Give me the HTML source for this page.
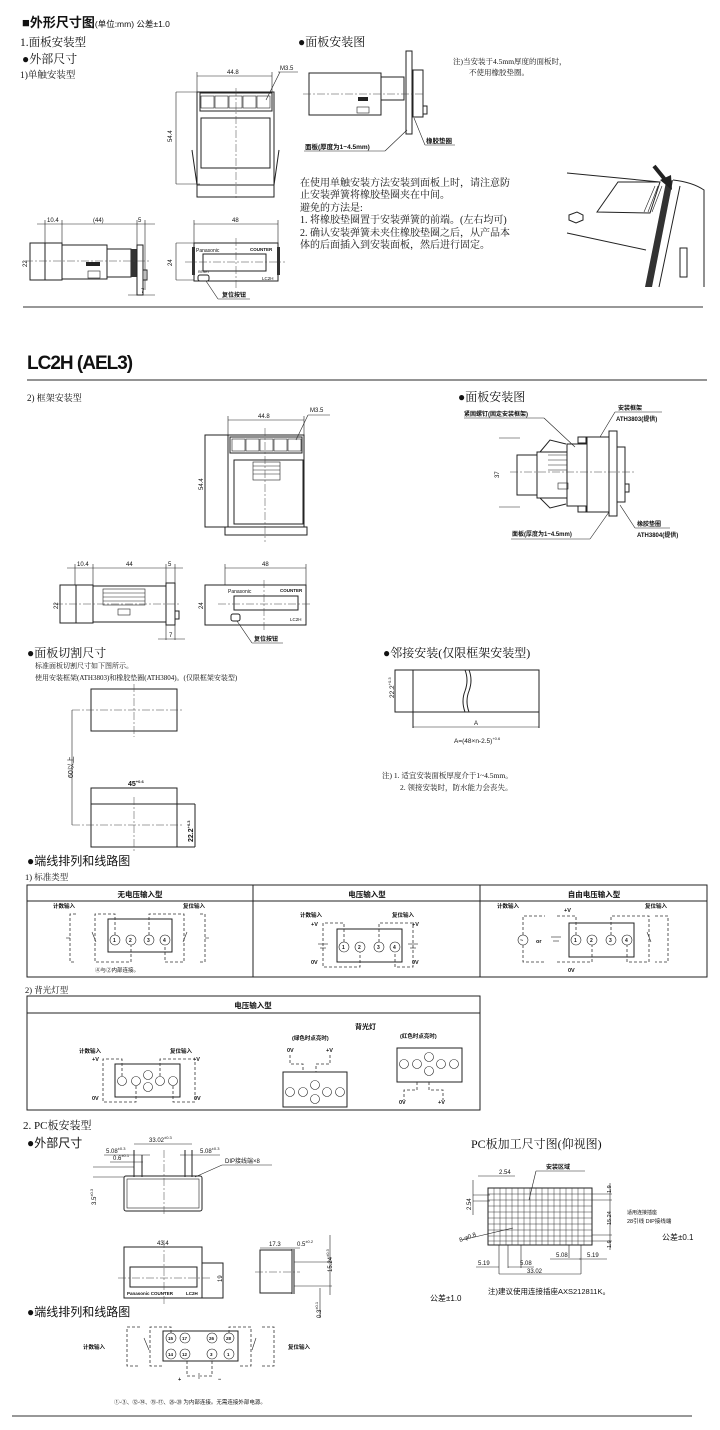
<!DOCTYPE html>
<html><head><meta charset="utf-8"><style>
html,body{margin:0;padding:0;background:#fff}
svg{display:block}
text{font-family:"Liberation Sans","Noto Sans CJK SC",sans-serif;fill:#111}
.s{font-family:"Liberation Serif","Noto Serif CJK SC",serif}
.l{stroke:#222;stroke-width:1;fill:none}
.t{stroke:#222;stroke-width:.6;fill:none}
.d{stroke:#333;stroke-width:.8;fill:none;stroke-dasharray:3 2}
.c{stroke:#444;stroke-width:.5;fill:none;stroke-dasharray:8 2 2 2}
.g{stroke:#333;stroke-width:.5;fill:none}
</style></head><body>
<svg width="720" height="1430" viewBox="0 0 720 1430" xmlns="http://www.w3.org/2000/svg">
<!-- Section 1 -->
<text x="22" y="27" font-size="13" font-weight="bold">■外形尺寸图<tspan font-size="8.5" font-weight="normal">(单位:mm) 公差±1.0</tspan></text>
<text x="20" y="46" font-size="11.5" class="s">1.面板安装型</text>
<text x="22" y="63" font-size="12" class="s">●外部尺寸</text>
<text x="20" y="78" font-size="9.5" class="s">1)单触安装型</text>
<text x="298" y="46" font-size="12" class="s">●面板安装图</text>

<!-- front view 1 -->
<g>
<line class="t" x1="197" y1="76" x2="272" y2="76"/><line class="t" x1="197" y1="72" x2="197" y2="92"/><line class="t" x1="272" y1="72" x2="272" y2="92"/>
<text x="227" y="74" font-size="6">44.8</text>
<text x="280" y="70" font-size="6">M3.5</text><line class="t" x1="278" y1="72" x2="298" y2="72"/><line class="t" x1="280" y1="72" x2="266" y2="100"/>
<line class="t" x1="176" y1="92" x2="200" y2="92"/><line class="t" x1="176" y1="184" x2="200" y2="184"/><line class="t" x1="176" y1="92" x2="176" y2="184"/>
<text x="172" y="142" font-size="6" transform="rotate(-90 172 142)">54.4</text>
<rect class="l" x="197" y="92" width="77" height="93"/>
<rect class="l" x="200" y="93" width="72" height="18"/>
<g class="t"><rect x="201" y="96" width="13" height="12"/><rect x="215" y="96" width="13" height="12"/><rect x="229" y="96" width="13" height="12"/><rect x="243" y="96" width="13" height="12"/><rect x="257" y="96" width="13" height="12"/></g>
<rect class="l" x="201" y="118" width="69" height="50"/>
<line class="l" x1="192" y1="150" x2="197" y2="185"/><line class="l" x1="279" y1="150" x2="274" y2="185"/>
<rect class="l" x="197" y="185" width="77" height="12"/>
<line class="c" x1="236" y1="88" x2="236" y2="200"/>
</g>
<!-- side panel view -->
<g>
<rect class="l" x="309" y="73" width="72" height="42"/>
<rect class="l" x="381" y="77" width="23" height="23"/>
<rect class="l" x="406" y="51" width="6" height="83"/>
<rect class="l" x="413" y="70" width="10" height="47"/>
<rect class="l" x="423" y="106" width="4" height="8"/>
<rect x="358" y="97" width="10" height="4" fill="#222"/>
<rect class="t" x="357" y="107" width="12" height="6"/>
<line class="c" x1="303" y1="94" x2="425" y2="94"/>
<line class="t" x1="304" y1="151" x2="385" y2="151"/><line class="t" x1="385" y1="151" x2="407" y2="130"/>
<text x="305" y="149" font-size="6.5" font-weight="bold">面板(厚度为1~4.5mm)</text>
<line class="t" x1="414" y1="118" x2="425" y2="145"/><line class="t" x1="425" y1="145" x2="455" y2="145"/>
<text x="426" y="143" font-size="6.5" font-weight="bold">橡胶垫圈</text>
</g>
<text x="453" y="64" font-size="7.5" class="s">注)当安装于4.5mm厚度的面板时，</text>
<text x="469" y="75" font-size="7.5" class="s">不使用橡胶垫圈。</text>
<g font-size="10" class="s">
<text x="300" y="186" class="s">在使用单触安装方法安装到面板上时，请注意防</text>
<text x="300" y="198" class="s">止安装弹簧将橡胶垫圈夹在中间。</text>
<text x="300" y="211" class="s">避免的方法是:</text>
<text x="300" y="223" class="s">1. 将橡胶垫圈置于安装弹簧的前端。(左右均可)</text>
<text x="300" y="236" class="s">2. 确认安装弹簧未夹住橡胶垫圈之后，从产品本</text>
<text x="300" y="248" class="s">体的后面插入到安装面板，然后进行固定。</text>
</g>
<!-- photo illustration -->
<g>
<line class="l" x1="567" y1="173" x2="660" y2="182"/>
<polygon class="l" points="618,182 660,182 650,213 597,212"/>
<line class="l" x1="567" y1="233" x2="646" y2="250"/>
<path class="l" d="M569 215 l8 -3 l6 3 l0 5 l-7 3 l-7 -3 z"/>
<path d="M666 182 L673 180 L652 287 L645 287 Z" fill="#333"/>
<path class="l" d="M673 180 Q692 182 704 190 L704 287 M680 186 L659 287"/>
<rect class="l" x="680" y="248" width="7" height="29"/>
<g class="t"><line x1="658" y1="186" x2="648" y2="212"/><line x1="662" y1="186" x2="652" y2="212"/><line x1="655" y1="186" x2="644" y2="212"/></g>
<line x1="654" y1="166" x2="667" y2="182" stroke="#222" stroke-width="4"/><path d="M660 180 L672 190 L671 175 Z" fill="#222"/>
</g>
<!-- bottom left side view -->
<g>
<text x="47" y="222" font-size="6">10.4</text><text x="93" y="222" font-size="6">(44)</text><text x="138" y="222" font-size="6">5</text>
<line class="t" x1="37" y1="224" x2="155" y2="224"/>
<line class="t" x1="45" y1="220" x2="45" y2="245"/><line class="t" x1="62" y1="220" x2="62" y2="245"/><line class="t" x1="137" y1="220" x2="137" y2="255"/><line class="t" x1="145" y1="220" x2="145" y2="290"/>
<rect class="l" x="30" y="243" width="32" height="37"/><line class="l" x1="45" y1="243" x2="45" y2="280"/>
<rect class="l" x="62" y="245" width="45" height="34"/>
<rect class="l" x="107" y="249" width="24" height="28"/><rect x="131" y="249" width="6" height="28" fill="#333"/>
<rect class="l" x="137" y="245" width="6" height="50"/><rect class="l" x="143" y="270" width="4" height="10"/>
<rect x="86" y="262" width="14" height="4" fill="#222"/><rect class="t" x="88" y="271" width="12" height="7"/>
<line class="c" x1="25" y1="261" x2="150" y2="261"/>
<text x="27" y="267" font-size="6" transform="rotate(-90 27 267)">22</text>
<line class="t" x1="128" y1="295" x2="155" y2="295"/><text x="141" y="293" font-size="6">7</text>
</g>
<!-- bottom front view -->
<g>
<line class="t" x1="194" y1="224" x2="278" y2="224"/><line class="t" x1="194" y1="220" x2="194" y2="245"/><line class="t" x1="278" y1="220" x2="278" y2="245"/>
<text x="232" y="222" font-size="6">48</text>
<line class="t" x1="176" y1="243" x2="194" y2="243"/><line class="t" x1="176" y1="280" x2="194" y2="280"/><line class="t" x1="176" y1="243" x2="176" y2="280"/>
<text x="172" y="266" font-size="6" transform="rotate(-90 172 266)">24</text>
<rect class="l" x="194" y="243" width="84" height="38"/>
<rect x="192" y="247" width="3" height="28" fill="#333"/><rect x="277" y="247" width="3" height="28" fill="#333"/>
<text x="196" y="252" font-size="5">Panasonic</text><text x="250" y="251" font-size="4.5" font-weight="bold">COUNTER</text>
<rect class="l" x="203" y="254" width="63" height="17"/>
<text x="198" y="273" font-size="3.5">RESET</text><rect class="l" x="198" y="275" width="11" height="6" rx="2"/>
<text x="262" y="280" font-size="4.5">LC2H</text>
<line class="c" x1="185" y1="262" x2="285" y2="262"/><line class="c" x1="236" y1="238" x2="236" y2="290"/>
<line class="t" x1="206" y1="281" x2="218" y2="299"/><line class="t" x1="218" y1="299" x2="250" y2="299"/>
<text x="222" y="297" font-size="6" font-weight="bold">复位按钮</text>
</g>
<line x1="23" y1="307" x2="703" y2="307" stroke="#777" stroke-width="1.5"/>

<!-- LC2H section -->
<text x="27" y="369" font-size="19" font-weight="bold" letter-spacing="-1">LC2H (AEL3)</text>
<line x1="27" y1="380" x2="707" y2="380" stroke="#555" stroke-width="1.2"/>
<text x="27" y="401" font-size="9" class="s">2) 框架安装型</text>
<text x="458" y="401" font-size="12" class="s">●面板安装图</text>
<!-- front view 2 -->
<g>
<line class="t" x1="228" y1="420" x2="304" y2="420"/><line class="t" x1="228" y1="416" x2="228" y2="436"/><line class="t" x1="304" y1="416" x2="304" y2="436"/>
<text x="258" y="418" font-size="6">44.8</text>
<text x="310" y="412" font-size="6">M3.5</text><line class="t" x1="308" y1="415" x2="330" y2="415"/><line class="t" x1="308" y1="415" x2="296" y2="440"/>
<rect class="l" x="205" y="435" width="23" height="92"/>
<text x="203" y="490" font-size="6" transform="rotate(-90 203 490)">54.4</text>
<rect class="l" x="228" y="435" width="76" height="92"/>
<rect class="l" x="230" y="437" width="72" height="16"/>
<g class="t"><rect x="232" y="439" width="13" height="12"/><rect x="246" y="439" width="13" height="12"/><rect x="260" y="439" width="13" height="12"/><rect x="274" y="439" width="13" height="12"/><rect x="288" y="439" width="13" height="12"/></g>
<rect class="l" x="234" y="460" width="69" height="64"/>
<g class="t"><rect x="253" y="462" width="27" height="18"/><line x1="253" y1="466" x2="280" y2="466"/><line x1="253" y1="470" x2="280" y2="470"/><line x1="253" y1="474" x2="280" y2="474"/></g>
<rect class="l" x="225" y="527" width="82" height="8"/>
<line class="c" x1="265" y1="428" x2="265" y2="542"/>
</g>
<!-- panel mount 2 -->
<g>
<rect class="l" x="517" y="455" width="20" height="40"/>
<rect class="l" x="537" y="452" width="30" height="46"/>
<g class="t"><line x1="548" y1="455" x2="567" y2="455"/><line x1="548" y1="460" x2="567" y2="460"/><line x1="548" y1="465" x2="567" y2="465"/><line x1="548" y1="470" x2="567" y2="470"/></g>
<path class="l" d="M540 452 L550 440 L566 444 M540 498 L550 508 L566 504"/>
<rect class="l" x="567" y="444" width="20" height="62"/>
<rect class="l" x="578" y="437" width="8" height="6"/><rect class="l" x="578" y="506" width="8" height="6"/>
<rect class="l" x="587" y="437" width="22" height="75"/>
<rect class="l" x="609" y="431" width="8" height="85"/>
<rect class="l" x="617" y="447" width="8" height="55"/><rect class="l" x="625" y="484" width="4" height="8"/>
<rect class="t" x="558" y="483" width="10" height="6"/>
<line class="t" x1="499" y1="438" x2="520" y2="438"/><line class="t" x1="499" y1="507" x2="520" y2="507"/>
<text x="499" y="478" font-size="6" transform="rotate(-90 499 478)">37</text>
<line class="c" x1="510" y1="472" x2="634" y2="472"/>
<text x="464" y="416" font-size="6" font-weight="bold">紧固螺钉(固定安装框架)</text><line class="t" x1="464" y1="418" x2="544" y2="418"/><line class="t" x1="544" y1="418" x2="575" y2="447"/>
<text x="618" y="410" font-size="6" font-weight="bold">安装框架</text><line class="t" x1="615" y1="412" x2="662" y2="412"/>
<text x="616" y="421" font-size="6" font-weight="bold">ATH3803(提供)</text><line class="t" x1="615" y1="412" x2="600" y2="437"/>
<text x="637" y="526" font-size="6" font-weight="bold">橡胶垫圈</text><line class="t" x1="635" y1="528" x2="670" y2="528"/><line class="t" x1="635" y1="528" x2="620" y2="505"/>
<text x="637" y="537" font-size="6" font-weight="bold">ATH3804(提供)</text>
<text x="512" y="536" font-size="6" font-weight="bold">面板(厚度为1~4.5mm)</text><line class="t" x1="511" y1="539" x2="590" y2="539"/><line class="t" x1="590" y1="539" x2="609" y2="512"/>
</g>
<!-- side view 2 -->
<g>
<text x="77" y="566" font-size="6">10.4</text><text x="126" y="566" font-size="6">44</text><text x="168" y="566" font-size="6">5</text>
<line class="t" x1="67" y1="568" x2="183" y2="568"/>
<line class="t" x1="75" y1="564" x2="75" y2="585"/><line class="t" x1="93" y1="564" x2="93" y2="585"/><line class="t" x1="166" y1="564" x2="166" y2="640"/><line class="t" x1="175" y1="564" x2="175" y2="640"/>
<rect class="l" x="60" y="585" width="33" height="38"/><line class="l" x1="76" y1="585" x2="76" y2="623"/>
<rect class="l" x="93" y="586" width="73" height="36"/>
<g class="t"><rect x="103" y="589" width="42" height="16"/><line x1="103" y1="593" x2="145" y2="593"/><line x1="103" y1="597" x2="145" y2="597"/><line x1="103" y1="601" x2="145" y2="601"/></g>
<rect class="l" x="166" y="583" width="9" height="42"/><rect class="l" x="175" y="611" width="4" height="8"/>
<rect class="t" x="118" y="609" width="12" height="6"/>
<line class="c" x1="55" y1="604" x2="180" y2="604"/>
<text x="58" y="609" font-size="6" transform="rotate(-90 58 609)">22</text>
<line class="t" x1="158" y1="639" x2="185" y2="639"/><text x="169" y="637" font-size="6">7</text>
</g>
<g>
<line class="t" x1="225" y1="568" x2="306" y2="568"/><line class="t" x1="225" y1="564" x2="225" y2="585"/><line class="t" x1="306" y1="564" x2="306" y2="585"/>
<text x="262" y="566" font-size="6">48</text>
<rect class="l" x="205" y="585" width="101" height="40"/>
<text x="203" y="609" font-size="6" transform="rotate(-90 203 609)">24</text>
<text x="228" y="593" font-size="5">Panasonic</text><text x="280" y="592" font-size="4.5" font-weight="bold">COUNTER</text>
<rect class="l" x="234" y="596" width="64" height="14"/>
<rect class="l" x="231" y="614" width="9" height="7" rx="2"/>
<text x="290" y="621" font-size="4.5">LC2H</text>
<line class="c" x1="218" y1="604" x2="312" y2="604"/><line class="c" x1="264" y1="580" x2="264" y2="630"/>
<line class="t" x1="237" y1="621" x2="252" y2="643"/><line class="t" x1="252" y1="643" x2="283" y2="643"/>
<text x="254" y="641" font-size="6" font-weight="bold">复位按钮</text>
</g>

<!-- cut dims -->
<text x="27" y="657" font-size="12" class="s">●面板切割尺寸</text>
<text x="35" y="668" font-size="7" class="s">标准面板切割尺寸如下图所示。</text>
<text x="35" y="680" font-size="7" class="s">使用安装框架(ATH3803)和橡胶垫圈(ATH3804)。(仅限框架安装型)</text>
<rect class="l" x="91" y="689" width="86" height="42"/>
<line class="c" x1="72" y1="710" x2="182" y2="710"/><line class="c" x1="134" y1="684" x2="134" y2="737"/>
<line class="t" x1="72" y1="710" x2="72" y2="825"/>
<text x="73" y="778" font-size="7" transform="rotate(-90 73 778)">60以上</text>
<rect class="l" x="91" y="788" width="86" height="59"/><line class="l" x1="91" y1="804" x2="195" y2="804"/><line class="l" x1="177" y1="847" x2="195" y2="847"/><line class="l" x1="195" y1="804" x2="195" y2="847"/>
<line class="c" x1="72" y1="825" x2="182" y2="825"/><line class="c" x1="134" y1="797" x2="134" y2="852"/>
<text x="128" y="786" font-size="7" font-weight="bold">45<tspan font-size="4" dy="-3">+0.6</tspan></text>
<text x="193" y="842" font-size="7" font-weight="bold" transform="rotate(-90 193 842)">22.2<tspan font-size="4" dy="-3">+0.3</tspan></text>

<text x="383" y="657" font-size="12" class="s">●邻接安装(仅限框架安装型)</text>
<rect class="l" x="395" y="670" width="144" height="42"/>
<line class="l" x1="413" y1="670" x2="413" y2="728"/><line class="l" x1="539" y1="712" x2="539" y2="728"/>
<path class="l" d="M465 670 q4 10 0 21 q-4 10 0 21 M469 670 q4 10 0 21 q-4 10 0 21" fill="#fff"/>
<line class="t" x1="413" y1="727" x2="539" y2="727"/><text x="474" y="725" font-size="6">A</text>
<text x="454" y="743" font-size="6.5">A=(48×n-2.5)<tspan font-size="4" dy="-3">+0.6</tspan></text>
<text x="394" y="698" font-size="6.5" transform="rotate(-90 394 698)">22.2<tspan font-size="4" dy="-3">+0.3</tspan></text>
<text x="382" y="778" font-size="7.5" class="s">注) 1. 适宜安装面板厚度介于1~4.5mm。</text>
<text x="400" y="790" font-size="7.5" class="s">2. 领接安装时，防水能力会丧失。</text>

<!-- wiring -->
<text x="27" y="865" font-size="12">●端线排列和线路图</text>
<text x="25" y="880" font-size="8.5" class="s">1) 标准类型</text>
<rect class="l" x="27" y="885" width="680" height="92"/>
<line class="l" x1="27" y1="901" x2="707" y2="901"/><line class="l" x1="253" y1="885" x2="253" y2="977"/><line class="l" x1="480" y1="885" x2="480" y2="977"/>
<g font-size="7.5" font-weight="bold" text-anchor="middle"><text x="140" y="897">无电压输入型</text><text x="367" y="897">电压输入型</text><text x="594" y="897">自由电压输入型</text></g>
<g font-size="5.5" font-weight="bold">
<text x="53" y="908">计数输入</text><text x="183" y="908">复位输入</text>
<rect class="l" x="108" y="919" width="64" height="33"/>
<g class="t"><circle cx="115" cy="940" r="5"/><circle cx="131" cy="940" r="5"/><circle cx="149" cy="940" r="5"/><circle cx="165" cy="940" r="5"/></g>
<g font-size="5"><text x="113" y="942">1</text><text x="129" y="942">2</text><text x="147" y="942">3</text><text x="163" y="942">4</text></g>
<path class="d" d="M115 935 V914 H95 V962 H131 V945 M149 935 V914 H184 V962 H165 V945 M76 914 H70 V962 H76 M200 914 H205 V962 H200"/>
<line class="t" x1="70" y1="938" x2="66" y2="938"/><line class="t" x1="205" y1="938" x2="209" y2="938"/>
<line class="t" x1="92" y1="932" x2="96" y2="942"/><line class="t" x1="187" y1="932" x2="183" y2="942"/>
<text x="95" y="972" font-weight="normal">④与②内部连接。</text>
<text x="300" y="917">计数输入</text><text x="392" y="917">复位输入</text>
<text x="311" y="926">+V</text><text x="412" y="926">+V</text><text x="311" y="964">0V</text><text x="412" y="964">0V</text>
<rect class="l" x="337" y="929" width="65" height="33"/>
<g class="t"><circle cx="344" cy="947" r="5"/><circle cx="360" cy="947" r="5"/><circle cx="379" cy="947" r="5"/><circle cx="395" cy="947" r="5"/></g>
<g font-size="5"><text x="342" y="949">1</text><text x="358" y="949">2</text><text x="377" y="949">3</text><text x="393" y="949">4</text></g>
<path class="d" d="M344 942 V923 H323 V967 H360 V952 M379 942 V923 H413 V967 H395 V952"/>
<g class="t"><line x1="318" y1="944" x2="328" y2="944"/><line x1="320" y1="948" x2="326" y2="948"/><line x1="408" y1="944" x2="418" y2="944"/><line x1="410" y1="948" x2="416" y2="948"/></g>
<text x="497" y="908">计数输入</text><text x="564" y="912">+V</text><text x="645" y="908">复位输入</text><text x="568" y="972">0V</text>
<rect class="l" x="569" y="923" width="65" height="34"/>
<g class="t"><circle cx="576" cy="940" r="5"/><circle cx="592" cy="940" r="5"/><circle cx="611" cy="940" r="5"/><circle cx="627" cy="940" r="5"/></g>
<g font-size="5"><text x="574" y="942">1</text><text x="590" y="942">2</text><text x="609" y="942">3</text><text x="625" y="942">4</text></g>
<circle class="t" cx="523" cy="940" r="5"/><text x="520" y="942">~</text><text x="536" y="943">or</text>
<path class="d" d="M523 935 V916 H545 M523 945 V962 H545 M557 916 H576 V935 M557 962 H592 V945 M611 935 V916 H649 V962 H627 V945 M655 916 H668 V962 H655"/>
<g class="t"><line x1="551" y1="937" x2="561" y2="937"/><line x1="553" y1="941" x2="559" y2="941"/><line x1="647" y1="932" x2="651" y2="942"/></g>
</g>

<text x="25" y="993" font-size="8.5" class="s">2) 背光灯型</text>
<rect class="l" x="27" y="996" width="453" height="114"/><line class="l" x1="27" y1="1013" x2="480" y2="1013"/>
<text x="253" y="1008" font-size="7.5" font-weight="bold" text-anchor="middle">电压输入型</text>
<g font-size="5.5" font-weight="bold">
<text x="355" y="1029" font-size="7">背光灯</text>
<text x="79" y="1053">计数输入</text><text x="170" y="1053">复位输入</text>
<text x="92" y="1061">+V</text><text x="193" y="1061">+V</text><text x="92" y="1100">0V</text><text x="194" y="1100">0V</text>
<rect class="l" x="115" y="1064" width="65" height="33"/>
<g class="t"><circle cx="122" cy="1081" r="4.5"/><circle cx="136" cy="1081" r="4.5"/><circle cx="148" cy="1075" r="4.5"/><circle cx="148" cy="1087" r="4.5"/><circle cx="160" cy="1081" r="4.5"/><circle cx="173" cy="1081" r="4.5"/></g>
<path class="d" d="M122 1076 V1059 H103 V1102 H136 V1086 M160 1076 V1059 H195 V1102 H173 V1086"/>
<text x="292" y="1040">(绿色时点亮时)</text><text x="287" y="1052">0V</text><text x="326" y="1052">+V</text>
<path class="d" d="M290 1055 V1064 H303 V1072 M330 1055 V1064 H316 V1072"/>
<rect class="l" x="283" y="1072" width="64" height="35"/>
<g class="t"><circle cx="290" cy="1092" r="4.5"/><circle cx="303" cy="1092" r="4.5"/><circle cx="315" cy="1085" r="4.5"/><circle cx="315" cy="1099" r="4.5"/><circle cx="327" cy="1092" r="4.5"/><circle cx="340" cy="1092" r="4.5"/></g>
<text x="400" y="1038">(红色时点亮时)</text>
<rect class="l" x="397" y="1048" width="65" height="34"/>
<g class="t"><circle cx="404" cy="1064" r="4.5"/><circle cx="417" cy="1064" r="4.5"/><circle cx="429" cy="1057" r="4.5"/><circle cx="429" cy="1071" r="4.5"/><circle cx="441" cy="1064" r="4.5"/><circle cx="454" cy="1064" r="4.5"/></g>
<path class="d" d="M417 1082 V1090 H404 V1100 M429 1082 V1090 H443 V1100"/>
<text x="399" y="1104">0V</text><text x="438" y="1104">+V</text>
</g>

<!-- PC section -->
<text x="23" y="1129" font-size="11" class="s">2. PC板安装型</text>
<text x="27" y="1147" font-size="12">●外部尺寸</text>
<g>
<line class="t" x1="134" y1="1144" x2="192" y2="1144"/><text x="149" y="1142" font-size="6">33.02<tspan font-size="4" dy="-3">±0.3</tspan></text>
<text x="106" y="1153" font-size="6">5.08<tspan font-size="4" dy="-3">±0.3</tspan></text><line class="t" x1="104" y1="1155" x2="150" y2="1155"/>
<text x="113" y="1160" font-size="6">0.6<tspan font-size="4" dy="-3">±0.1</tspan></text><line class="t" x1="110" y1="1162" x2="143" y2="1162"/>
<text x="200" y="1153" font-size="6">5.08<tspan font-size="4" dy="-3">±0.3</tspan></text><line class="t" x1="180" y1="1155" x2="220" y2="1155"/>
<text x="225" y="1163" font-size="6">DIP接线端×8</text><line class="t" x1="222" y1="1165" x2="272" y2="1165"/><line class="t" x1="222" y1="1165" x2="195" y2="1177"/>
<g class="l"><line x1="134" y1="1150" x2="134" y2="1177"/><line x1="142" y1="1155" x2="142" y2="1177"/><line x1="185" y1="1150" x2="185" y2="1177"/><line x1="192" y1="1150" x2="192" y2="1177"/></g>
<line class="t" x1="93" y1="1167" x2="134" y2="1167"/><line class="t" x1="93" y1="1177" x2="124" y2="1177"/>
<text x="96" y="1205" font-size="6" transform="rotate(-90 96 1205)">3.5<tspan font-size="4" dy="-3">±0.3</tspan></text>
<rect class="l" x="124" y="1176" width="78" height="35" rx="2"/><rect class="t" x="127" y="1179" width="72" height="29"/>
<line class="c" x1="164" y1="1150" x2="164" y2="1215"/>
</g>
<g>
<text x="157" y="1245" font-size="6">43.4</text><line class="t" x1="124" y1="1247" x2="202" y2="1247"/>
<rect class="l" x="124" y="1247" width="78" height="51"/><rect class="l" x="202" y="1263" width="21" height="35"/>
<rect class="l" x="130" y="1267" width="67" height="20"/>
<text x="127" y="1295" font-size="4.5" font-weight="bold">Panasonic COUNTER</text><text x="186" y="1295" font-size="4.5" font-weight="bold">LC2H</text>
<text x="222" y="1282" font-size="6" transform="rotate(-90 222 1282)">19</text>
<line class="c" x1="118" y1="1278" x2="210" y2="1278"/><line class="c" x1="164" y1="1240" x2="164" y2="1305"/>
</g>
<g>
<text x="269" y="1246" font-size="6">17.3</text><text x="297" y="1246" font-size="6">0.5<tspan font-size="4" dy="-3">±0.2</tspan></text><line class="t" x1="260" y1="1248" x2="300" y2="1248"/>
<rect class="l" x="260" y="1250" width="32" height="43"/>
<line class="l" x1="292" y1="1249" x2="292" y2="1294"/><line class="l" x1="294" y1="1249" x2="294" y2="1294"/>
<line class="t" x1="294" y1="1262" x2="332" y2="1262"/><line class="t" x1="294" y1="1286" x2="332" y2="1286"/>
<line class="t" x1="330" y1="1235" x2="330" y2="1295"/><line class="t" x1="320" y1="1288" x2="320" y2="1318"/>
<text x="332" y="1272" font-size="6" transform="rotate(-90 332 1272)">15.24<tspan font-size="4" dy="-3">±0.3</tspan></text>
<text x="321" y="1318" font-size="6" transform="rotate(-90 321 1318)">0.3<tspan font-size="4" dy="-3">±0.1</tspan></text>
<line class="c" x1="255" y1="1272" x2="300" y2="1272"/>
</g>
<text x="27" y="1316" font-size="12">●端线排列和线路图</text>
<g font-size="5.5" font-weight="bold">
<rect class="l" x="163" y="1331" width="75" height="30"/>
<g class="t"><circle cx="171" cy="1338" r="5"/><circle cx="185" cy="1338" r="5"/><circle cx="212" cy="1338" r="5"/><circle cx="229" cy="1338" r="5"/><circle cx="171" cy="1354" r="5"/><circle cx="185" cy="1354" r="5"/><circle cx="212" cy="1354" r="5"/><circle cx="229" cy="1354" r="5"/></g>
<g font-size="4.5"><text x="168" y="1340">15</text><text x="182" y="1340">17</text><text x="209" y="1340">26</text><text x="226" y="1340">28</text><text x="168" y="1356">14</text><text x="182" y="1356">12</text><text x="210" y="1356">3</text><text x="227" y="1356">1</text></g>
<path class="d" d="M171 1333 V1327 H150 V1366 H163 M229 1333 V1327 H251 V1366 H238 M140 1327 H127 V1366 H140 M262 1327 H274 V1366 H262 M187 1361 V1376 H196 M212 1361 V1376 H204"/>
<g class="t"><line x1="144" y1="1338" x2="149" y2="1350"/><line x1="256" y1="1338" x2="252" y2="1350"/><line x1="199" y1="1373" x2="199" y2="1379"/><line x1="201" y1="1375" x2="201" y2="1377"/></g>
<text x="83" y="1349">计数输入</text><text x="288" y="1349">复位输入</text>
<text x="178" y="1381">+</text><text x="218" y="1381">−</text>
<text x="114" y="1404" font-weight="normal">①-③、⑫-⑭、⑮-⑰、㉖-㉘ 为内部连接。无需连接外部电源。</text>
</g>
<!-- PC board -->
<text x="471" y="1148" font-size="12" class="s">PC板加工尺寸图(仰视图)</text>
<g>
<rect x="488" y="1188" width="104" height="57" fill="none" stroke="#222" stroke-width="1"/>
<g class="g">
<path d="M494 1188V1245M500 1188V1245M506 1188V1245M512 1188V1245M518 1188V1245M524 1188V1245M530 1188V1245M536 1188V1245M542 1188V1245M548 1188V1245M554 1188V1245M560 1188V1245M566 1188V1245M572 1188V1245M578 1188V1245M584 1188V1245"/>
<path d="M488 1194H592M488 1200H592M488 1206H592M488 1212H592M488 1218H592M488 1224H592M488 1230H592M488 1236H592M488 1241H592"/>
</g>
<line class="t" x1="478" y1="1176" x2="515" y2="1176"/><text x="499" y="1174" font-size="6">2.54</text>
<text x="546" y="1169" font-size="6" font-weight="bold">安装区域</text><line class="t" x1="536" y1="1171" x2="585" y2="1171"/><line class="t" x1="536" y1="1171" x2="529" y2="1200"/>
<line class="t" x1="473" y1="1180" x2="473" y2="1215"/><text x="471" y="1210" font-size="6" transform="rotate(-90 471 1210)">2.54</text>
<line class="t" x1="473" y1="1195" x2="490" y2="1195"/><line class="t" x1="473" y1="1201" x2="490" y2="1201"/>
<text x="460" y="1242" font-size="6" transform="rotate(-20 460 1242)">8-φ0.8</text><line class="t" x1="462" y1="1240" x2="513" y2="1228"/>
<g class="t"><line x1="592" y1="1194" x2="612" y2="1194"/><line x1="592" y1="1200" x2="612" y2="1200"/><line x1="592" y1="1235" x2="612" y2="1235"/><line x1="592" y1="1241" x2="612" y2="1241"/><line x1="610" y1="1183" x2="610" y2="1250"/></g>
<text x="611" y="1193" font-size="5.5" transform="rotate(-90 611 1193)">1.9</text>
<text x="611" y="1225" font-size="5.5" transform="rotate(-90 611 1225)">15.24</text>
<text x="611" y="1248" font-size="5.5" transform="rotate(-90 611 1248)">1.9</text>
<text x="627" y="1214" font-size="5">适用连接插座</text><text x="627" y="1223" font-size="5.5">28引线 DIP接线端</text>
<text x="662" y="1240" font-size="8">公差±0.1</text>
<g class="t"><line x1="499" y1="1245" x2="499" y2="1274"/><line x1="508" y1="1245" x2="508" y2="1268"/><line x1="521" y1="1245" x2="521" y2="1268"/><line x1="569" y1="1245" x2="569" y2="1258"/><line x1="581" y1="1245" x2="581" y2="1274"/>
<line x1="550" y1="1259" x2="581" y2="1259"/><line x1="579" y1="1259" x2="607" y2="1259"/><line x1="476" y1="1267" x2="499" y2="1267"/><line x1="508" y1="1267" x2="534" y2="1267"/><line x1="499" y1="1274" x2="581" y2="1274"/></g>
<g font-size="6"><text x="556" y="1257">5.08</text><text x="587" y="1257">5.19</text><text x="478" y="1265">5.19</text><text x="520" y="1265">5.08</text><text x="527" y="1273">33.02</text></g>
<text x="488" y="1294" font-size="7.5">注)建议使用连接插座AXS212811K。</text>
<text x="430" y="1301" font-size="8">公差±1.0</text>
</g>
<line x1="12" y1="1416" x2="692" y2="1416" stroke="#777" stroke-width="1.5"/>
</svg>
</body></html>
